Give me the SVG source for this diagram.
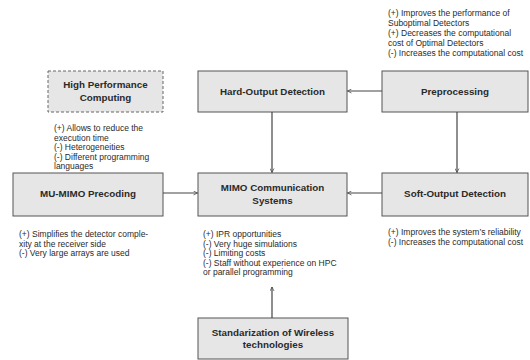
<svg xmlns="http://www.w3.org/2000/svg" width="530" height="360" viewBox="0 0 530 360">
<defs>
<marker id="arr" viewBox="0 0 10 10" refX="9" refY="5" markerWidth="5" markerHeight="5" orient="auto" markerUnits="userSpaceOnUse">
<path d="M1,1 L9,5 L1,9" fill="none" stroke="#444" stroke-width="1.4"/>
</marker>
<style>
.box{fill:#e6e6e6;stroke:#555;stroke-width:1}
.dash{fill:#e6e6e6;stroke:#666;stroke-width:1;stroke-dasharray:3,2}
.lbl{font-family:"Liberation Sans",Arial,sans-serif;font-weight:bold;font-size:9.8px;fill:#2a2a2a;text-anchor:middle}
.ann{font-family:"Liberation Sans",Arial,sans-serif;font-size:8.5px;fill:#2a2a2a}
.con{stroke:#444;stroke-width:1.2;fill:none;marker-end:url(#arr)}
</style>
</defs>
<rect width="530" height="360" fill="#fff"/>
<g id="hpc">
<rect class="dash" x="48" y="71" width="115" height="41"/>
<text class="lbl" x="105.5" y="88">High Performance</text>
<text class="lbl" x="105.5" y="100.5">Computing</text>
</g>
<g id="hard">
<rect class="box" x="198" y="71" width="149" height="41"/>
<text class="lbl" x="272.5" y="95">Hard-Output Detection</text>
</g>
<g id="pre">
<rect class="box" x="382" y="71" width="146" height="41"/>
<text class="lbl" x="455" y="95">Preprocessing</text>
</g>
<g id="mu">
<rect class="box" x="13" y="173" width="150" height="43"/>
<text class="lbl" x="88" y="197">MU-MIMO Precoding</text>
</g>
<g id="mimo">
<rect class="box" x="198" y="173" width="149" height="43"/>
<text class="lbl" x="272.5" y="191">MIMO Communication</text>
<text class="lbl" x="272.5" y="204">Systems</text>
</g>
<g id="soft">
<rect class="box" x="382" y="173" width="146" height="43"/>
<text class="lbl" x="455" y="197">Soft-Output Detection</text>
</g>
<g id="std">
<rect class="box" x="198" y="318" width="150" height="41"/>
<text class="lbl" x="273" y="336">Standarization of Wireless</text>
<text class="lbl" x="273" y="347.5">technologies</text>
</g>
<g id="connectors">
<line class="con" x1="382" y1="91" x2="347.5" y2="91"/>
<line class="con" x1="272" y1="112" x2="272" y2="172.5"/>
<line class="con" x1="457" y1="112" x2="457" y2="172.5"/>
<line class="con" x1="382" y1="193" x2="347.5" y2="193"/>
<line class="con" x1="163" y1="193" x2="197.5" y2="193"/>
<line class="con" x1="272" y1="318" x2="272" y2="287"/>
</g>
<g id="notes">
<text class="ann" x="388" y="16">(+) Improves the performance of</text>
<text class="ann" x="388" y="26">Suboptimal Detectors</text>
<text class="ann" x="388" y="36">(+) Decreases the computational</text>
<text class="ann" x="388" y="46">cost of Optimal Detectors</text>
<text class="ann" x="388" y="56">(-) Increases the computational cost</text>
<text class="ann" x="54" y="131">(+) Allows to reduce the</text>
<text class="ann" x="54" y="140.5">execution time</text>
<text class="ann" x="54" y="150">(-) Heterogeneities</text>
<text class="ann" x="54" y="159.5">(-) Different programming</text>
<text class="ann" x="54" y="169">languages</text>
<text class="ann" x="19" y="237">(+) Simplifies the detector comple-</text>
<text class="ann" x="19" y="246.5">xity at the receiver side</text>
<text class="ann" x="19" y="256">(-) Very large arrays are used</text>
<text class="ann" x="203" y="237">(+) IPR opportunities</text>
<text class="ann" x="203" y="246.5">(-) Very huge simulations</text>
<text class="ann" x="203" y="256">(-) Limiting costs</text>
<text class="ann" x="203" y="265.5">(-) Staff without experience on HPC</text>
<text class="ann" x="203" y="275">or parallel programming</text>
<text class="ann" x="388" y="235">(+) Improves the system’s reliability</text>
<text class="ann" x="388" y="244.5">(-) Increases the computational cost</text>
</g>
</svg>
